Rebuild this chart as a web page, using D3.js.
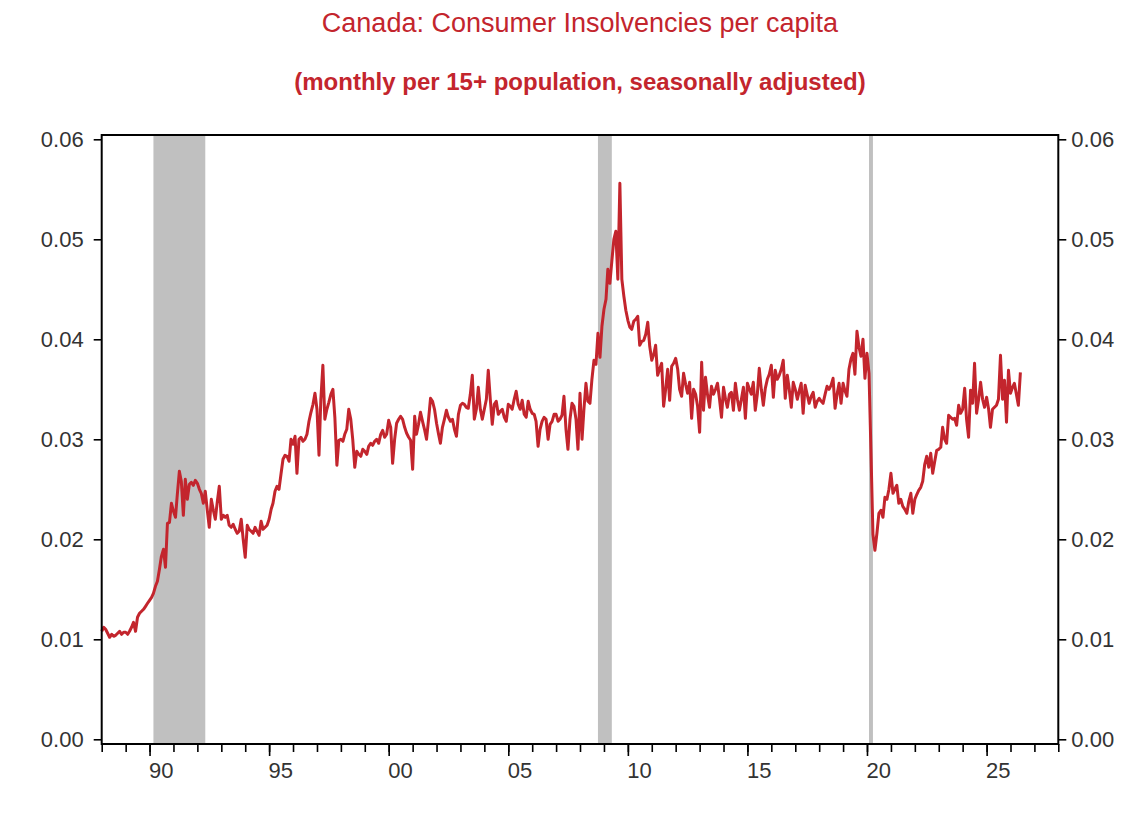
<!DOCTYPE html>
<html>
<head>
<meta charset="utf-8">
<script src="https://cdn.jsdelivr.net/npm/d3@7"></script>
<style>
    body { margin: 0; background: #fff; }
    svg text { font-family: "Liberation Sans", Arial, sans-serif; }
</style>
</head>
<body>
<div id="chart"></div>
<script>
// monthly series, first value is Jan of startYear
var startYear = 1988

var insolvencies = [
    // 1988
    0.0108, 0.0112, 0.0110, 0.0106, 0.0102, 0.0105, 0.0103, 0.0104, 0.0106, 0.0108, 0.0105, 0.0107,
    // 1989
    0.0107, 0.0105, 0.0108, 0.0112, 0.0117, 0.0108, 0.0122, 0.0126, 0.0128, 0.0130, 0.0133, 0.0136,
    // 1990
    0.0139, 0.0142, 0.0146, 0.0153, 0.0158, 0.0170, 0.0183, 0.0190, 0.0172, 0.0216, 0.0217, 0.0236,
    // 1991
    0.0228, 0.0222, 0.0245, 0.0268, 0.0258, 0.0224, 0.0260, 0.0240, 0.0255, 0.0257, 0.0254, 0.0259,
    // 1992
    0.0256, 0.0250, 0.0246, 0.0236, 0.0248, 0.0229, 0.0212, 0.0240, 0.0229, 0.0220, 0.0238, 0.0253,
    // 1993
    0.0220, 0.0224, 0.0222, 0.0224, 0.0214, 0.0212, 0.0215, 0.0210, 0.0206, 0.0208, 0.0220, 0.0200,
    // 1994
    0.0182, 0.0214, 0.0210, 0.0208, 0.0206, 0.0212, 0.0208, 0.0204, 0.0218, 0.0210, 0.0212, 0.0214,
    // 1995
    0.0220, 0.0230, 0.0236, 0.0248, 0.0253, 0.0250, 0.0265, 0.0280, 0.0284, 0.0283, 0.0278, 0.0300,
    // 1996
    0.0295, 0.0303, 0.0266, 0.0300, 0.0302, 0.0298, 0.0300, 0.0305, 0.0318, 0.0327, 0.0335, 0.0346,
    // 1997
    0.0330, 0.0284, 0.0340, 0.0374, 0.0320, 0.0330, 0.0337, 0.0345, 0.0350, 0.0322, 0.0274, 0.0299,
    // 1998
    0.0300, 0.0298, 0.0305, 0.0310, 0.0330, 0.0320, 0.0300, 0.0272, 0.0288, 0.0285, 0.0283, 0.0290,
    // 1999
    0.0288, 0.0285, 0.0293, 0.0296, 0.0294, 0.0298, 0.0300, 0.0296, 0.0305, 0.0309, 0.0302, 0.0305,
    // 2000
    0.0319, 0.0312, 0.0276, 0.0300, 0.0316, 0.0320, 0.0323, 0.0320, 0.0312, 0.0306, 0.0302, 0.0299,
    // 2001
    0.0270, 0.0323, 0.0305, 0.0315, 0.0327, 0.0318, 0.0310, 0.0300, 0.0320, 0.0341, 0.0338, 0.0330,
    // 2002
    0.0316, 0.0305, 0.0296, 0.0312, 0.0320, 0.0329, 0.0322, 0.0318, 0.0320, 0.0310, 0.0303, 0.0325,
    // 2003
    0.0334, 0.0336, 0.0335, 0.0332, 0.0331, 0.0345, 0.0364, 0.0320, 0.0330, 0.0352, 0.0330, 0.0320,
    // 2004
    0.0330, 0.0340, 0.0369, 0.0340, 0.0315, 0.0335, 0.0338, 0.0325, 0.0328, 0.0330, 0.0322, 0.0318,
    // 2005
    0.0335, 0.0333, 0.0330, 0.0340, 0.0348, 0.0335, 0.0330, 0.0339, 0.0325, 0.0322, 0.0338, 0.0330,
    // 2006
    0.0326, 0.0325, 0.0318, 0.0293, 0.0310, 0.0318, 0.0322, 0.0320, 0.0300, 0.0315, 0.0318, 0.0325,
    // 2007
    0.0325, 0.0318, 0.0320, 0.0324, 0.0343, 0.0310, 0.0290, 0.0320, 0.0336, 0.0333, 0.0320, 0.0290,
    // 2008
    0.0346, 0.0300, 0.0330, 0.0356, 0.0338, 0.0336, 0.0360, 0.0379, 0.0375, 0.0406, 0.0382, 0.0413,
    // 2009
    0.0430, 0.0440, 0.0470, 0.0456, 0.0478, 0.0500, 0.0508, 0.0460, 0.0556, 0.0460, 0.0443, 0.0429,
    // 2010
    0.0419, 0.0412, 0.0410, 0.0418, 0.0420, 0.0423, 0.0394, 0.0398, 0.0399, 0.0405, 0.0417, 0.0393,
    // 2011
    0.0379, 0.0385, 0.0394, 0.0364, 0.0370, 0.0376, 0.0333, 0.0350, 0.0370, 0.0339, 0.0373, 0.0376,
    // 2012
    0.0381, 0.0370, 0.0350, 0.0343, 0.0366, 0.0355, 0.0346, 0.0357, 0.0321, 0.0350, 0.0345, 0.0333,
    // 2013
    0.0307, 0.0377, 0.0329, 0.0362, 0.0345, 0.0332, 0.0353, 0.0345, 0.0350, 0.0356, 0.0340, 0.0322,
    // 2014
    0.0352, 0.0340, 0.0332, 0.0345, 0.0347, 0.0329, 0.0356, 0.0340, 0.0329, 0.0340, 0.0352, 0.0321,
    // 2015
    0.0356, 0.0350, 0.0345, 0.0357, 0.0329, 0.0345, 0.0371, 0.0350, 0.0334, 0.0351, 0.0360, 0.0365,
    // 2016
    0.0374, 0.0342, 0.0369, 0.0360, 0.0364, 0.0370, 0.0379, 0.0341, 0.0364, 0.0350, 0.0332, 0.0357,
    // 2017
    0.0350, 0.0340, 0.0348, 0.0356, 0.0326, 0.0354, 0.0345, 0.0336, 0.0343, 0.0347, 0.0332, 0.0338,
    // 2018
    0.0341, 0.0338, 0.0336, 0.0345, 0.0353, 0.0350, 0.0354, 0.0361, 0.0331, 0.0345, 0.0356, 0.0336,
    // 2019
    0.0356, 0.0348, 0.0343, 0.0370, 0.0380, 0.0386, 0.0365, 0.0408, 0.0392, 0.0383, 0.0400, 0.0361,
    // 2020
    0.0386, 0.0366, 0.0290, 0.0205, 0.0189, 0.0206, 0.0226, 0.0229, 0.0222, 0.0242, 0.0240, 0.0250,
    // 2021
    0.0266, 0.0246, 0.0250, 0.0254, 0.0236, 0.0240, 0.0233, 0.0230, 0.0226, 0.0238, 0.0246, 0.0226,
    // 2022
    0.0240, 0.0245, 0.0249, 0.0252, 0.0258, 0.0275, 0.0283, 0.0272, 0.0286, 0.0266, 0.0278, 0.0289,
    // 2023
    0.0290, 0.0292, 0.0312, 0.0300, 0.0296, 0.0324, 0.0322, 0.0320, 0.0321, 0.0314, 0.0334, 0.0326,
    // 2024
    0.0330, 0.0351, 0.0320, 0.0302, 0.0349, 0.0336, 0.0376, 0.0326, 0.0340, 0.0357, 0.0340, 0.0332,
    // 2025
    0.0342, 0.0330, 0.0312, 0.0330, 0.0332, 0.0334, 0.0340, 0.0384, 0.0340, 0.0359, 0.0317, 0.0369,
    // 2026
    0.0346, 0.0352, 0.0356, 0.0345, 0.0334, 0.0367
]

var recessionStarts = ['1990-03-01', '2008-10-01', '2020-02-01']
var recessionEnds = ['1992-05-01', '2009-05-01', '2020-04-01']

var yTicks = [0, 0.01, 0.02, 0.03, 0.04, 0.05, 0.06]
var minorYears = d3.range(1988, 2029)
var majorYears = [1990, 1995, 2000, 2005, 2010, 2015, 2020, 2025]
var majorLabels = ['90', '95', '00', '05', '10', '15', '20', '25']

var titleText = 'Canada: Consumer Insolvencies per capita'
var subtitleText = '(monthly per 15+ population, seasonally adjusted)'

var width = 1140,
    height = 815
var frame = { left: 101.7, right: 1058.3, top: 135, bottom: 744 }
var red = '#c3252d'

var parse = d3.timeParse('%Y-%m-%d')

var svg = d3.select('#chart').append('svg')
    .attr('width', width)
    .attr('height', height)

var x = d3.scaleTime()
    .domain([new Date(1988, 0, 1), new Date(2028, 0, 1)])
    .range([frame.left, frame.right])

var y = d3.scaleLinear()
    .domain([0, 0.06])
    .range([739.3, 139.3])

// titles
svg.append('text')
    .attr('x', (frame.left + frame.right) / 2)
    .attr('y', 32)
    .attr('text-anchor', 'middle')
    .style('font-size', '27px')
    .style('fill', red)
    .text(titleText)

svg.append('text')
    .attr('x', (frame.left + frame.right) / 2)
    .attr('y', 90)
    .attr('text-anchor', 'middle')
    .style('font-size', '24px')
    .style('font-weight', 'bold')
    .style('fill', red)
    .text(subtitleText)

// recession shading
svg.append('g')
    .selectAll('rect')
    .data(recessionStarts)
    .enter().append('rect')
    .attr('x', (d) => x(parse(d)))
    .attr('width', (d, i) => x(parse(recessionEnds[i])) - x(parse(d)))
    .attr('y', frame.top)
    .attr('height', frame.bottom - frame.top)
    .style('fill', '#c0c0c0')

// series
var line = d3.line()
    .x((d, i) => x(new Date(startYear, i, 1)))
    .y((d) => y(d))

svg.append('path')
    .datum(insolvencies)
    .attr('d', line)
    .style('fill', 'none')
    .style('stroke', red)
    .style('stroke-width', 3)
    .style('stroke-linejoin', 'round')

// frame
svg.append('rect')
    .attr('x', frame.left)
    .attr('y', frame.top)
    .attr('width', frame.right - frame.left)
    .attr('height', frame.bottom - frame.top)
    .style('fill', 'none')
    .style('stroke', '#000')
    .style('stroke-width', 2)

function styleAxis(g) {
    g.select('.domain').remove()
    g.selectAll('line').style('stroke', '#000').style('stroke-width', 1.6)
    g.selectAll('text')
        .style('font-size', '22px')
        .style('fill', '#333')
        .style('font-family', '"Liberation Sans", Arial, sans-serif')
}

svg.append('g')
    .attr('transform', `translate(${frame.left}, 0)`)
    .call(d3.axisLeft(y).tickValues(yTicks).tickSize(8).tickPadding(10).tickFormat(d3.format('.2f')))
    .call(styleAxis)

svg.append('g')
    .attr('transform', `translate(${frame.right}, 0)`)
    .call(d3.axisRight(y).tickValues(yTicks).tickSize(8).tickPadding(5).tickFormat(d3.format('.2f')))
    .call(styleAxis)

svg.append('g')
    .attr('transform', `translate(0, ${frame.bottom})`)
    .call(d3.axisBottom(x).tickValues(minorYears.map((yr) => new Date(yr, 0, 1))).tickSize(8).tickFormat(''))
    .call(styleAxis)

svg.append('g')
    .attr('transform', `translate(0, ${frame.bottom})`)
    .call(d3.axisBottom(x).tickValues(majorYears.map((yr) => new Date(yr, 0, 1))).tickSize(12).tickPadding(6)
        .tickFormat((d, i) => majorLabels[i]))
    .call(styleAxis)
    .selectAll('text')
    .attr('text-anchor', 'start')
    .attr('dx', -1)
</script>
</body>
</html>
